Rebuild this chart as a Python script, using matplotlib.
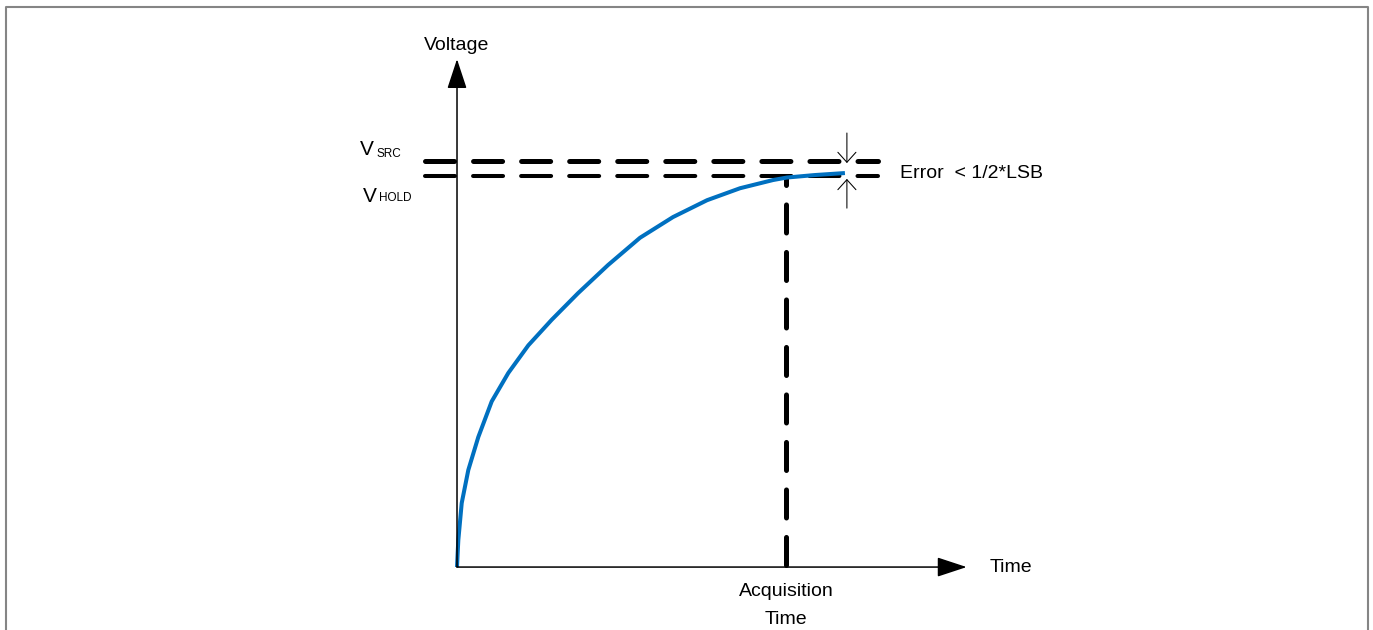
import matplotlib
matplotlib.use("Agg")
import matplotlib.pyplot as plt
from matplotlib.lines import Line2D

plt.rcParams['font.family'] = ['Liberation Sans', 'DejaVu Sans']
plt.rcParams['lines.scale_dashes'] = False

# ---- data (normalised units: acquisition time = 1, V_SRC = 1) ----
curve_t = [0.0, 0.002, 0.004, 0.0143, 0.0343, 0.0647, 0.1055, 0.1559, 0.2167,
           0.2878, 0.3678, 0.4590, 0.5562, 0.6565, 0.7599, 0.8602, 0.9605,
           1.003, 1.088, 1.179]
curve_v = [0.0, 0.035, 0.0665, 0.1576, 0.2389, 0.3202, 0.4080, 0.4780, 0.5460,
           0.6090, 0.6745, 0.7438, 0.8110, 0.8620, 0.9035, 0.9330, 0.9532,
           0.9594, 0.9655, 0.9704]
v_src = 1.0
v_hold = 0.963
t_acq = 1.0
t_axis_end = 1.549
v_axis_end = 1.251
t_dash_start = -0.096
t_dash_end = 1.28
t_err = 1.185

labels = {"y": "Voltage", "x": "Time", "acq1": "Acquisition", "acq2": "Time",
          "err": "Error  < 1/2*LSB"}

BLUE = "#0070C0"

fig = plt.figure(figsize=(13.73, 6.30), dpi=100)
ax = fig.add_axes([0, 0, 1, 1])
ax.set_xlim(-1.389, 2.784)
ax.set_ylim(-0.155, 1.3966)
ax.axis("off")

# frame (no bottom edge)
fig.add_artist(Line2D([6/1373, 6/1373, 1368/1373, 1368/1373],
                      [0, 1-7/630, 1-7/630, 0], transform=fig.transFigure,
                      color="#858585", lw=1.5))

# axes arrows
arrow_kw = dict(arrowstyle="-|>,head_length=18.5,head_width=6.1", mutation_scale=1,
                color="black", lw=1.1, shrinkA=0, shrinkB=0)
ax.annotate("", xy=(0, v_axis_end), xytext=(0, 0), arrowprops=arrow_kw)
ax.annotate("", xy=(t_axis_end, 0), xytext=(0, 0), arrowprops=arrow_kw)

# dashed reference lines
ax.plot([t_dash_start, t_dash_end], [v_src, v_src], color="black", lw=3.6,
        linestyle=(0, (20.9, 13.7)), dash_capstyle="round")
ax.plot([t_dash_start, t_dash_end], [v_hold, v_hold], color="black", lw=2.9,
        linestyle=(0, (21.6, 13.0)), dash_capstyle="round")
ax.plot([t_acq, t_acq], [0.006, v_hold], color="black", lw=3.6,
        linestyle=(0, (20.2, 14.0)), dash_capstyle="round")

# curve
ax.plot(curve_t, curve_v, color=BLUE, lw=2.9, solid_capstyle="butt",
        solid_joinstyle="round")

# error arrows
err_kw = dict(arrowstyle="->,head_length=7.2,head_width=6.5", mutation_scale=1,
              color="black", lw=0.75, shrinkA=0, shrinkB=0)
ax.annotate("", xy=(t_err, 0.995), xytext=(t_err, 1.069), arrowprops=err_kw)
ax.annotate("", xy=(t_err, 0.956), xytext=(t_err, 0.884), arrowprops=err_kw)

# texts
ax.text(0, 1.284, labels["y"], ha="center", va="center", fontsize=14)
ax.text(t_axis_end + 0.071, 0, labels["x"], ha="left", va="center", fontsize=14)
ax.text(t_acq, -0.0591, labels["acq1"], ha="center", va="center", fontsize=14)
ax.text(t_acq, -0.128, labels["acq2"], ha="center", va="center", fontsize=14)
ax.text(1.3465, 0.970, labels["err"], ha="left", va="center", fontsize=14)

ax.text(-0.295, 1.0148, "V", ha="left", va="baseline", fontsize=15)
ax.text(-0.245, 1.0106, "SRC", ha="left", va="baseline", fontsize=8.5)
ax.text(-0.2866, 0.900, "V", ha="left", va="baseline", fontsize=15)
ax.text(-0.236, 0.902, "HOLD", ha="left", va="baseline", fontsize=8.5)

fig.savefig("out.png", dpi=100)
